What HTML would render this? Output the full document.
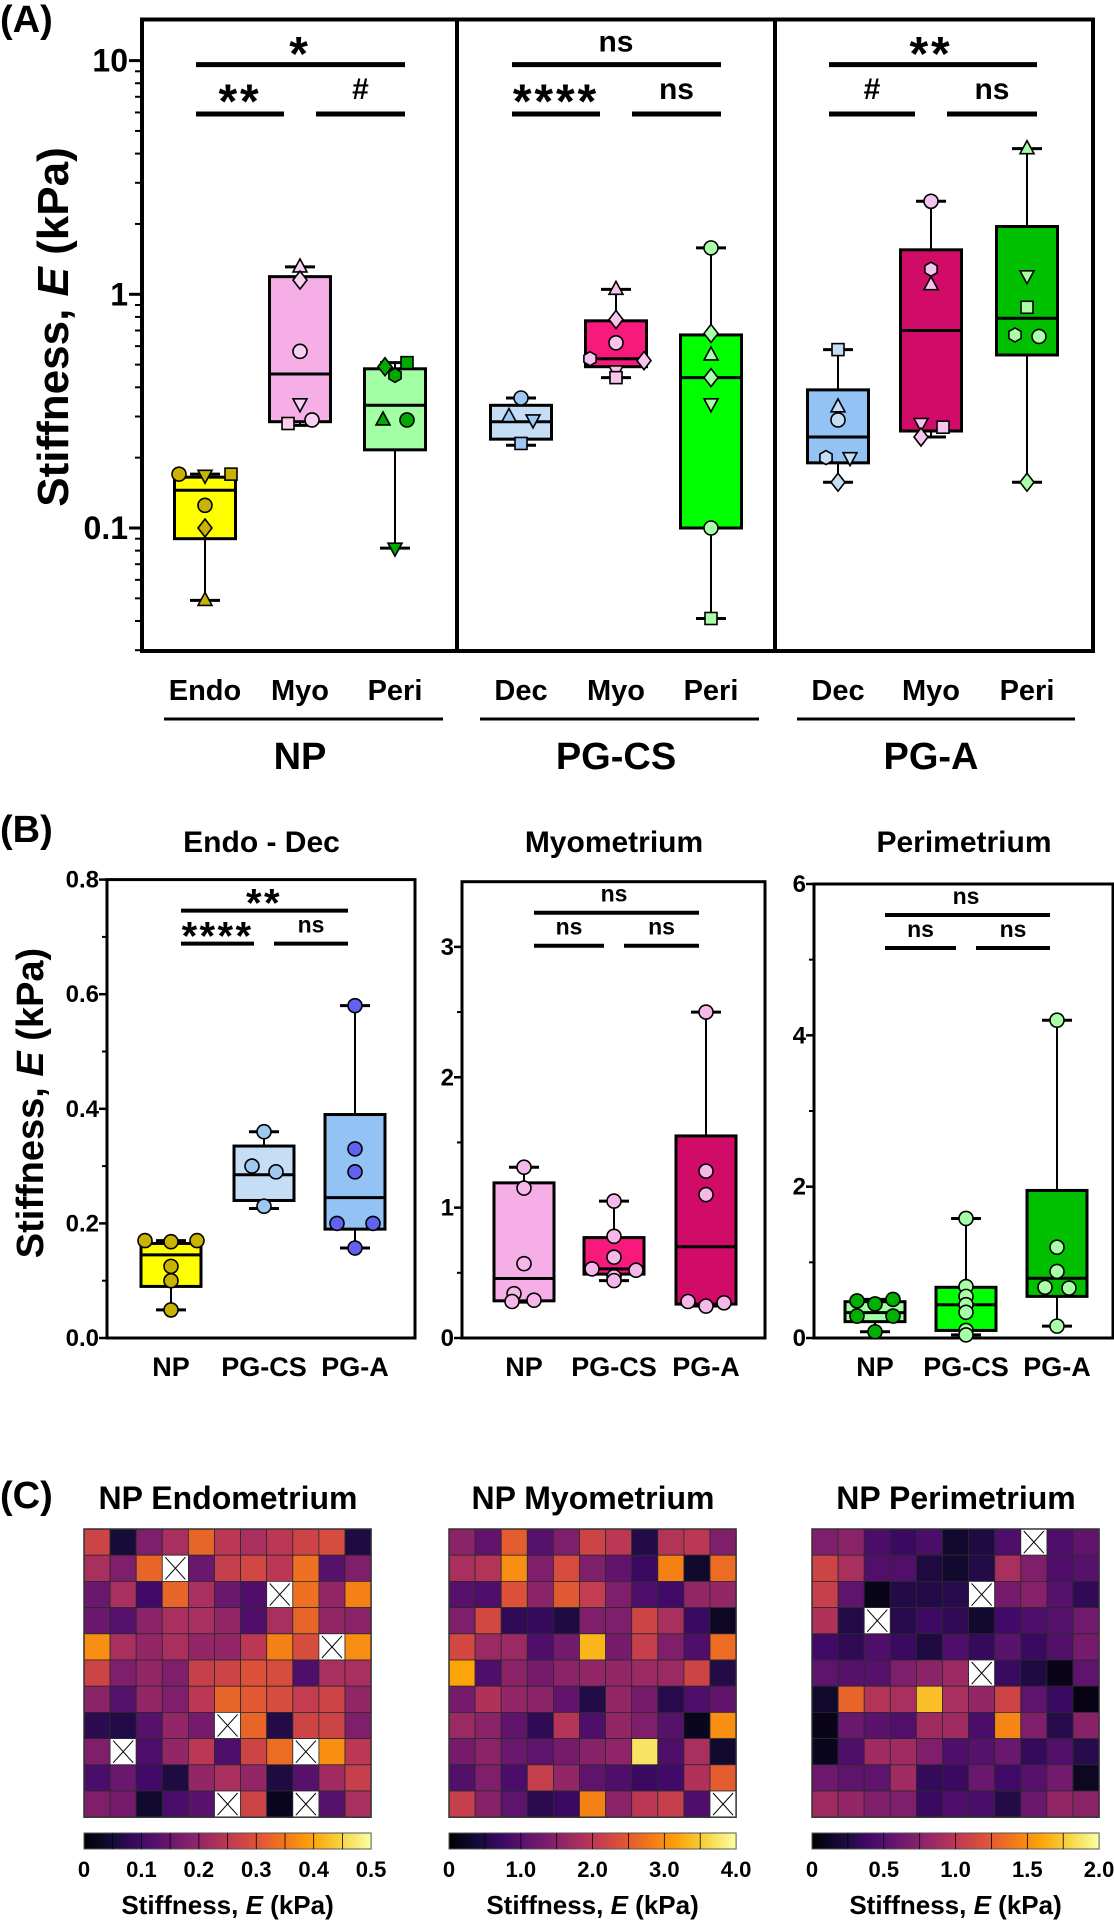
<!DOCTYPE html>
<html><head><meta charset="utf-8"><style>
html,body{margin:0;padding:0;background:#fff}
svg{display:block}
text{font-family:"Liberation Sans",Arial,sans-serif;font-weight:bold;fill:#000}
</style></head><body>
<svg id="fig" width="1114" height="1920" viewBox="0 0 1114 1920" xmlns="http://www.w3.org/2000/svg">
<text x="0" y="32" font-size="38">(A)</text>
<text x="0" y="842" font-size="38">(B)</text>
<text x="0" y="1508" font-size="38">(C)</text>
</svg>
<script>
// ---------- Panel A/B data ----------
const groupNames = ['NP-Endo','NP-Myo','NP-Peri','PGCS-Dec','PGCS-Myo','PGCS-Peri','PGA-Dec','PGA-Myo','PGA-Peri'];
const catLabelsA = ['Endo','Myo','Peri','Dec','Myo','Peri','Dec','Myo','Peri'];
const groupLabelsA = ['NP','PG-CS','PG-A'];
const boxMin = [0.049,0.275,0.082,0.226,0.44,0.041,0.157,0.245,0.157];
const boxQ1  = [0.09,0.285,0.216,0.24,0.49,0.10,0.19,0.26,0.55];
const boxMed = [0.145,0.456,0.335,0.285,0.53,0.44,0.245,0.70,0.79];
const boxQ3  = [0.165,1.19,0.48,0.335,0.77,0.67,0.39,1.55,1.95];
const boxMax = [0.17,1.31,0.51,0.36,1.05,1.58,0.58,2.5,4.2];
const pts = [
 [0.17,0.168,0.17,0.125,0.10,0.049],
 [1.31,1.15,0.57,0.34,0.28,0.29],
 [0.49,0.51,0.45,0.29,0.29,0.082],
 [0.36,0.30,0.29,0.23],
 [1.05,0.78,0.62,0.53,0.52,0.47,0.44],
 [1.58,0.68,0.55,0.44,0.34,0.10,0.041],
 [0.58,0.33,0.29,0.20,0.20,0.157],
 [2.5,1.28,1.10,0.28,0.27,0.245],
 [4.2,1.2,0.88,0.67,0.66,0.157]
];
const shapes = [
 ['c','v','s','c','d','t'],
 ['t','d','c','v','s','c'],
 ['d','s','h','t','c','v'],
 ['c','t','v','s'],
 ['t','d','c','h','d','v','s'],
 ['c','d','t','d','v','c','s'],
 ['s','t','c','h','v','d'],
 ['c','h','t','v','s','d'],
 ['t','v','s','h','c','d']
];
const yTicksA = [0.1,1,10];
const yTickLabelsA = ['0.1','1','10'];
const sigTopA = ['*','ns','**'];
const sigLeftA = ['**','****','#'];
const sigRightA = ['#','ns','ns'];
const titlesB = ['Endo - Dec','Myometrium','Perimetrium'];
const catLabelsB = ['NP','PG-CS','PG-A'];
const yTicksB = [[0,0.2,0.4,0.6,0.8],[0,1,2,3],[0,2,4,6]];
const yTickLabB = [['0.0','0.2','0.4','0.6','0.8'],['0','1','2','3'],['0','2','4','6']];
const yMaxB = [0.8,3.5,6];
const sigTopB = ['**','ns','ns'];
const sigLeftB = ['****','ns','ns'];
const sigRightB = ['ns','ns','ns'];

// styles
const boxFill = ['#ffff00','#f5aee6','#a3ffa3','#c6ddf6','#f7197c','#00ff00','#93c2f5','#d00b68','#00c000'];
const ptFill = ['#c9b300','#f8d0f0','#00a800','#9cc8f2','#f8c4ee','#a8ffa8','#c6ddf6','#f5c4ee','#a8ffa8'];
const ptFillB = [['#c9b300','#9cc8f2','#6262f0'],['#f5b8e8','#f5b8e8','#f5b8e8'],['#00b000','#a8ffa8','#a8ffa8']];
const ptDx = [[-26,0,26,0,0,0],[0,0,0,0,-12,12],[-10,12,0,-12,12,0],[0,-12,12,0],[0,0,0,-26,28,0,0],[0,0,0,0,0,0,0],[0,0,0,-12,12,0],[0,0,0,-10,12,-10],[0,0,0,-12,12,0]];
const ptDxB = [[-26,0,26,0,0,0],[0,0,0,-10,-12,10],[-18,18,0,-18,18,0],[0,-12,12,0],[0,0,0,-22,22,0,0],[0,0,0,0,0,0,0],[0,0,0,-18,18,0],[0,0,0,-18,18,0],[0,0,0,-12,12,0]];

const svg = document.getElementById('fig');
const NS = 'http://www.w3.org/2000/svg';
function mk(tag, attrs, parent){
  const e = document.createElementNS(NS, tag);
  for (const k in attrs) e.setAttribute(k, attrs[k]);
  (parent||svg).appendChild(e);
  return e;
}
function txt(x,y,s,size,anchor,name,parent){
  const t = mk('text',{x:x,y:y,'font-size':size,'text-anchor':anchor||'middle'},parent);
  t.textContent = s;
  
  
  return t;
}
function line(x1,y1,x2,y2,w,name,parent){
  const l = mk('line',{x1:x1,y1:y1,x2:x2,y2:y2,stroke:'#000','stroke-width':w},parent);
  
  
  return l;
}
// significance label: stars drawn large, centred 'gap' px above the bar
function sig(x, barY, s, starSize, nsSize, starGap, nsGap, name, parent){
  if (s.indexOf('*')>=0){
    const t = txt(x, barY - starGap + 0.57*starSize, s, starSize, 'middle', name, parent);
    t.setAttribute('letter-spacing', starSize*0.06);
    return t;
  }
  return txt(x, barY - nsGap, s, nsSize, 'middle', name, parent);
}
function marker(shape,x,y,fill,parent){
  const r = 7;
  let e;
  const st = {fill:fill,stroke:'#000','stroke-width':1.6};
  if (shape==='c') e = mk('circle',Object.assign({cx:x,cy:y,r:r},st),parent);
  else if (shape==='s') e = mk('rect',Object.assign({x:x-6,y:y-6,width:12,height:12},st),parent);
  else if (shape==='t') e = mk('polygon',Object.assign({points:`${x},${y-8} ${x+7},${y+5} ${x-7},${y+5}`},st),parent);
  else if (shape==='v') e = mk('polygon',Object.assign({points:`${x},${y+8} ${x+7},${y-5} ${x-7},${y-5}`},st),parent);
  else if (shape==='d') e = mk('polygon',Object.assign({points:`${x},${y-9} ${x+7},${y} ${x},${y+9} ${x-7},${y}`},st),parent);
  else { let p=[]; for(let i=0;i<6;i++){const a=Math.PI/3*i+Math.PI/6;p.push((x+7*Math.cos(a)).toFixed(1)+','+(y+7*Math.sin(a)).toFixed(1));} e = mk('polygon',Object.assign({points:p.join(' ')},st),parent); }
  
  
  return e;
}
function drawBox(i, xc, ys, g, fills, dxs, bw, cap, pfill){
  const grp = mk('g',{},g);
  
  
  line(xc, ys(boxMax[i]), xc, ys(boxQ3[i]), 2, 'whisker-upper', grp);
  line(xc, ys(boxQ1[i]), xc, ys(boxMin[i]), 2, 'whisker-lower', grp);
  line(xc-cap, ys(boxMax[i]), xc+cap, ys(boxMax[i]), 3, 'whisker-cap-max', grp);
  line(xc-cap, ys(boxMin[i]), xc+cap, ys(boxMin[i]), 3, 'whisker-cap-min', grp);
  const r = mk('rect',{x:xc-bw/2,y:ys(boxQ3[i]),width:bw,height:ys(boxQ1[i])-ys(boxQ3[i]),fill:fills,stroke:'#000','stroke-width':3},grp);
  
  
  line(xc-bw/2, ys(boxMed[i]), xc+bw/2, ys(boxMed[i]), 3, 'median-line', grp);
  pts[i].forEach((v,j)=>marker(pfill.shape?shapes[i][j]:'c', xc+dxs[j], ys(v), pfill.color, grp));
}
function yTitle(x,y,size,name){
  const t = mk('text',{transform:`translate(${x},${y}) rotate(-90)`,'font-size':size,'text-anchor':'middle'});
  
  
  const a = mk('tspan',{},t); a.textContent='Stiffness, ';
  const b = mk('tspan',{'font-style':'italic'},t); b.textContent='E';
  const c = mk('tspan',{},t); c.textContent=' (kPa)';
  return t;
}

// ---------- Panel A ----------
const gA = mk('g',{});


const yA = v => 528 - (Math.log10(v)+1)*233.7;
const xA = [205,300,395,521,616,711,838,931,1027];
yTicksA.forEach((v,k)=>{
  line(129, yA(v), 143, yA(v), 3, 'y-major-tick', gA);
  txt(128, yA(v)+11, yTickLabelsA[k], 32, 'end', 'y-tick-label', gA);
});
[0.03,0.04,0.05,0.06,0.07,0.08,0.09,0.2,0.3,0.4,0.5,0.6,0.7,0.8,0.9,2,3,4,5,6,7,8,9].forEach(v=>line(135,yA(v),143,yA(v),2,'y-minor-tick',gA));
const fr = mk('rect',{x:142,y:19.5,width:951,height:631.5,fill:'none',stroke:'#000','stroke-width':4},gA);


line(457,19.5,457,651,4,'group-divider',gA);
line(775,19.5,775,651,4,'group-divider',gA);
yTitle(68,327,44,'y-axis-title-a');
for (let i=0;i<9;i++){
  drawBox(i, xA[i], yA, gA, boxFill[i], ptDx[i], 61, 15, {shape:true,color:ptFill[i]});
  txt(xA[i], 700, catLabelsA[i], 29, 'middle', 'x-category-label', gA);
}
for (let g=0; g<3; g++){
  const l = xA[g*3]-9, r = xA[g*3+2]+10, m = xA[g*3+1];
  line(l,64.6,r,64.6,5,'sig-bar-top',gA);
  sig(m, 64.6, sigTopA[g], 48, 30, 22, 13, 'sig-label-top', gA);
  line(l,114,m-16,114,5,'sig-bar-left',gA);
  line(m+16,114,r,114,5,'sig-bar-right',gA);
  sig((l+m-16)/2, 114, sigLeftA[g], 48, 30, 24, 15, 'sig-label-left', gA);
  sig((m+16+r)/2, 114, sigRightA[g], 48, 30, 24, 15, 'sig-label-right', gA);
  line(xA[g*3]-41, 719, xA[g*3+2]+48, 719, 3, 'group-underline', gA);
  txt(m, 769, groupLabelsA[g], 38, 'middle', 'group-label', gA);
}

// ---------- Panel B ----------
const xB0 = [[107,416],[462,766],[814,1114]];
const xBc = [[171,264,355],[524,614,706],[875,966,1057]];
const topB = [879.6,881.7,884];
const idxB = [[0,3,6],[1,4,7],[2,5,8]];
for (let p=0;p<3;p++){
  const g = mk('g',{});
  
  
  const ys = v => 1338 - v/yMaxB[p]*(1338-topB[p]);
  txt((xB0[p][0]+xB0[p][1])/2, 852, titlesB[p], 30, 'middle', 'chart-title', g);
  const f = mk('rect',{x:xB0[p][0],y:topB[p],width:xB0[p][1]-xB0[p][0]-1,height:1338-topB[p],fill:'none',stroke:'#000','stroke-width':3},g);
  
  
  yTicksB[p].forEach((v,k)=>{
    line(xB0[p][0]-8, ys(v), xB0[p][0], ys(v), 2.5, 'y-major-tick', g);
    txt(xB0[p][0]-8, ys(v)+8, yTickLabB[p][k], 24, 'end', 'y-tick-label', g);
    if (k<yTicksB[p].length-1){ const mv=(v+yTicksB[p][k+1])/2; line(xB0[p][0]-5, ys(mv), xB0[p][0], ys(mv), 2, 'y-minor-tick', g); }
  });
  for (let c=0;c<3;c++){
    const i = idxB[p][c];
    drawBox(i, xBc[p][c], ys, g, boxFill[i], ptDxB[i], 60, 15, {shape:false,color:ptFillB[p][c]});
    txt(xBc[p][c], 1376, catLabelsB[c], 27, 'middle', 'x-category-label', g);
  }
  const l = xBc[p][0]+10, r = xBc[p][2]-7, m = xBc[p][1];
  const yt = topB[p]+31, yl = topB[p]+64;
  line(l,yt,r,yt,4,'sig-bar-top',g);
  sig(m, yt, sigTopB[p], 40, 23, 17, 11, 'sig-label-top', g);
  line(l,yl,m-10,yl,4,'sig-bar-left',g);
  line(m+10,yl,r,yl,4,'sig-bar-right',g);
  sig((l+m-10)/2, yl, sigLeftB[p], 40, 23, 17, 11, 'sig-label-left', g);
  sig((m+10+r)/2, yl, sigRightB[p], 40, 23, 17, 11, 'sig-label-right', g);
}
yTitle(43,1103,38,'y-axis-title-b');

// ---------- Panel C ----------
const heatTitles = ['NP Endometrium','NP Myometrium','NP Perimetrium'];
const cbarTickLabels = [['0','0.1','0.2','0.3','0.4','0.5'],['0','1.0','2.0','3.0','4.0'],['0','0.5','1.0','1.5','2.0']];
const X = null;
// levels on 0-10 scale (fraction of colorbar max x10); null = missing
const heat1 = [
[5.5,1,3.5,4.5,6.5,5,4.5,5,5.5,5.8,1.2],
[4.5,3.5,6.5,X,3,5.3,5.6,5,6.8,2.5,3.5],
[3,4.5,2,6.5,4.5,3,2.3,X,6.8,4,7.2],
[3,2.5,3.8,4.5,4.5,4,2.3,4.5,6.5,4,3.8],
[7.5,4.5,4,4.5,4,4,5,7.2,5.8,X,7.5],
[5.5,3.5,4,3.5,5.3,5.5,6,5.8,2.3,4.5,4.5],
[3.8,2.5,4,3.5,5,6.5,6.2,5.8,5.2,5.5,4],
[1.5,1.3,2.5,4,3.3,X,6.5,1.3,5.5,5.5,3.5],
[3.5,X,2.3,4,5,2.3,5.5,6.7,X,7.5,5],
[2.2,3,2,1.2,4,4.5,4,1.2,2.5,4.3,5.3],
[3.5,3.3,0.8,2.2,2.6,X,5.5,0.5,X,2.5,4.5]];
const heat2 = [
[3.8,2.8,6.3,2.5,3.5,5.5,5,1.3,4.8,5,3.5],
[4.5,4.8,7.5,3.5,5.8,3.5,2.8,1.8,7.2,0.8,6.7],
[2.5,2.3,6,3.8,6.2,5.2,3.5,2.3,2,4,4],
[3.5,5.7,1.6,1.7,1.2,3.5,3.5,5.5,4.5,1.8,0.6],
[5.7,4.2,4.2,2.3,3.2,8.3,3.3,5.3,3.5,2.3,6.7],
[8,2.3,3.8,3.3,3.8,4,4,4.2,4.2,5.5,1.3],
[3.3,4.7,4,3.8,2.8,1.3,4,3.3,1.4,2.3,2.8],
[4.2,3.8,2.8,1.6,4.8,2.3,4,3.5,2.5,0.5,7.5],
[3.3,3.8,3,2.7,3.3,3.7,3.9,9.3,2.3,4.5,0.8],
[2.4,3.5,2.2,5.3,4,2.7,2.3,1.8,2,4.7,6.3],
[5.3,3.7,2.7,1.5,1.8,7.2,3.8,5,5.3,2.3,X]];
const heat3 = [
[3.5,3.8,2.2,1.8,2.2,0.8,1.2,2.3,X,2.3,2.8],
[5.5,4.5,2.4,2.4,1.2,0.8,1.3,4.5,3.5,2.3,2.5],
[5.3,2.7,0.4,1.3,1.3,1.4,X,3.3,3.7,2.5,1.6],
[4.7,1.3,X,1.4,1.9,1.6,0.8,2,2.3,2.5,3.2],
[2,1.6,2.3,1.8,1.2,2.3,1.7,2.6,1.8,2.4,3.3],
[2.7,2.5,2.5,3.5,3.8,4.2,X,1.8,1.2,0.4,2.7],
[0.8,6.5,4.8,4.5,8.5,4.5,4,5.5,2.7,1.8,0.3],
[0.4,3,2.6,2.4,4.3,4.3,2.2,7.3,3.5,1.4,3.7],
[0.5,2.3,4.3,4.3,3.5,2.3,2.5,3,1.7,2.4,1.4],
[3.1,2.7,2.7,4.3,1.7,1.8,3,2,2.5,3.2,0.6],
[4.3,4,3.5,3.5,1.8,2.3,2.2,1.3,3,4,3.8]];
const heats = [heat1,heat2,heat3];
const inferno = ['#000004','#160b39','#420a68','#6a176e','#932667','#bc3754','#dd513a','#f37819','#fca50a','#f6d746','#fcffa4'];
function hex2(c){return [parseInt(c.slice(1,3),16),parseInt(c.slice(3,5),16),parseInt(c.slice(5,7),16)];}
function cmap(f){
  f=Math.max(0,Math.min(1,f))*10; const i=Math.min(9,Math.floor(f)); const t=f-i;
  const a=hex2(inferno[i]), b=hex2(inferno[i+1]);
  return 'rgb('+a.map((v,k)=>Math.round(v+(b[k]-v)*t)).join(',')+')';
}
const defs = mk('defs',{});
const grad = mk('linearGradient',{id:'infernoGrad',x1:0,x2:1,y1:0,y2:0},defs);
inferno.forEach((c,k)=>mk('stop',{offset:(k*10)+'%','stop-color':c},grad));
const mapX = [84,449,812];
const mapY = 1529, cw = 26.1, ch = 26.2;
for (let m=0;m<3;m++){
  const g = mk('g',{});
  
  
  txt(mapX[m]+144, 1509, heatTitles[m], 32, 'middle', 'heatmap-title', g);
  heats[m].forEach((row,r)=>row.forEach((v,c)=>{
    const x = mapX[m]+c*cw, y = mapY+r*ch;
    const cell = mk('rect',{x:x,y:y,width:cw,height:ch,fill:v===null?'#fff':cmap(v/10),stroke:'#2a2a2a','stroke-width':0.8},g);
    
    
    if (v===null){
      line(x+3,y+2,x+cw-3,y+ch-2,1,'missing-cross',g);
      line(x+cw-3,y+2,x+3,y+ch-2,1,'missing-cross',g);
    }
  }));
  const bd = mk('rect',{x:mapX[m],y:mapY,width:11*cw,height:11*ch,fill:'none',stroke:'#333','stroke-width':1.5},g);
  
  
  const w = 11*cw;
  const cb = mk('rect',{x:mapX[m],y:1833,width:w,height:16,fill:'url(#infernoGrad)',stroke:'#555','stroke-width':1},g);
  
  
  const n = cbarTickLabels[m].length-1;
  const subs = m===0?10:8;
  for (let k=1;k<subs;k++) line(mapX[m]+w*k/subs,1833,mapX[m]+w*k/subs,1849,0.8,'colorbar-tick',g);
  cbarTickLabels[m].forEach((s,k)=>txt(mapX[m]+w*k/n, 1877, s, 22, 'middle', 'colorbar-tick-label', g));
  const ct = mk('text',{x:mapX[m]+w/2,y:1914,'font-size':26,'text-anchor':'middle'},g);
  
  
  const c1 = mk('tspan',{},ct); c1.textContent='Stiffness, ';
  const c2 = mk('tspan',{'font-style':'italic'},ct); c2.textContent='E';
  const c3 = mk('tspan',{},ct); c3.textContent=' (kPa)';
}
</script>
</body></html>
